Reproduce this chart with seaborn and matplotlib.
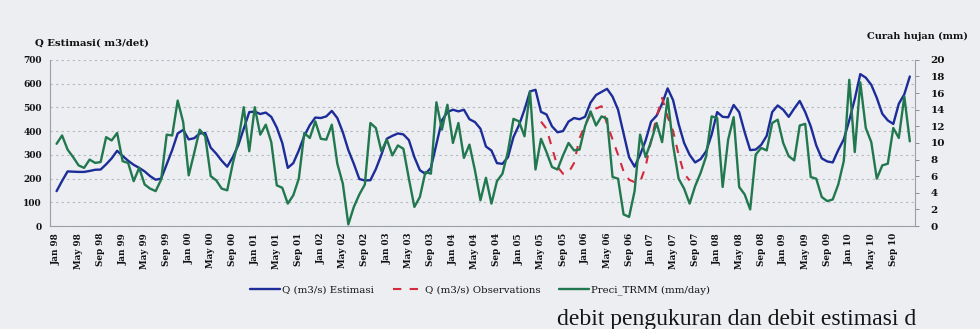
import numpy as np
import pandas as pd
import matplotlib
matplotlib.use("Agg")
import matplotlib.pyplot as plt
import seaborn as sns

# Monthly series, Jan 1998 - Dec 2010
dates = pd.date_range("1998-01-01", periods=156, freq="MS")
month_labels = [d.strftime("%b %y") for d in dates]

q_estimasi = [
    147, 190, 230, 229, 228, 228, 232, 237, 238, 260,
    285, 317, 295, 275, 258, 245, 230, 210, 195, 200,
    260, 320, 390, 405, 365, 370, 390, 392, 330, 305,
    275, 250, 290, 340, 410, 480, 482, 472, 478, 460,
    415, 350, 245, 265, 318, 380, 425, 457, 455, 462,
    485, 455, 395, 320, 262, 198, 192, 193, 240, 300,
    368, 380, 390, 386, 362, 290, 235, 220, 245, 345,
    445, 480, 490, 483, 490, 450, 438, 410, 335, 318,
    265, 262, 290, 375, 425, 490, 567, 574, 481, 470,
    420, 395, 400, 440, 455, 450, 460, 520, 552, 565,
    578, 545, 490, 390, 290, 250, 300, 360, 440, 465,
    515, 580, 530, 430, 350, 300, 268, 282, 315, 385,
    480, 460, 458, 510, 480, 395, 320, 322, 342, 380,
    480, 508, 490, 460, 495, 527, 480, 420, 340, 285,
    272, 268, 320, 365, 445, 535, 640, 625, 595, 540,
    473, 445, 430, 515, 555, 630,
]

# Observed discharge, available May 2005 - Aug 2007
obs_start = "2005-05-01"
q_observasi = [
    440, 410, 330, 250, 220, 225, 265, 370, 425, 470,
    495, 505, 430, 365, 300, 230, 195, 185, 185, 250,
    360, 460, 540, 460, 400, 300, 220, 192,
]

preci_trmm = [
    9.9, 10.9, 9.2, 8.3, 7.3, 7.0, 8.0, 7.6, 7.7, 10.7,
    10.3, 11.2, 7.8, 7.6, 5.4, 7.0, 5.0, 4.5, 4.2, 5.6,
    11.0, 10.9, 15.1, 12.5, 6.1, 8.8, 11.6, 10.8, 6.0, 5.5,
    4.5, 4.3, 7.5, 10.2, 14.3, 9.0, 14.3, 11.0, 12.2, 10.1,
    4.9, 4.6, 2.7, 3.7, 5.7, 11.2, 10.6, 12.6, 10.5, 10.4,
    12.2, 7.5, 5.1, 0.2, 2.3, 3.8, 5.0, 12.4, 11.8, 9.0,
    10.4, 8.5, 9.7, 9.3, 5.7, 2.3, 3.5, 6.5, 6.3, 14.9,
    11.6, 14.6, 10.0, 12.4, 8.2, 9.8, 6.7, 3.1, 5.8, 2.7,
    5.4, 6.3, 9.0, 12.9, 12.6, 10.8, 16.2, 6.8, 10.5, 8.9,
    7.1, 6.8, 8.5, 10.0, 9.1, 9.2, 12.0, 13.8, 12.1, 13.2,
    12.9, 5.9, 5.7, 1.4, 1.1, 4.2, 11.0, 8.3, 10.2, 12.4,
    10.1, 15.4, 9.7, 5.7, 4.5, 2.7, 4.8, 6.4, 8.4, 13.2,
    13.0, 4.7, 10.4, 13.1, 4.7, 3.8, 2.0, 8.6, 9.4, 9.1,
    12.4, 12.8, 10.0, 8.4, 7.9, 12.1, 12.3, 5.9, 5.7, 3.5,
    3.0, 3.2, 5.0, 7.8, 17.6, 8.9, 17.3, 11.8, 10.1, 5.7,
    7.3, 7.5, 11.8, 10.6, 15.6, 10.2,
]

df = pd.DataFrame({"t": np.arange(len(dates)), "q_est": q_estimasi, "preci": preci_trmm})
obs_idx = int(np.where(dates == pd.Timestamp(obs_start))[0][0])
df_obs = pd.DataFrame({"t": np.arange(obs_idx, obs_idx + len(q_observasi)), "q_obs": q_observasi})

BLUE = "#1c2c98"
RED = "#d42a3c"
GREEN = "#21784f"
PAPER = "#eceef1"
TXT = "#111111"

sns.set_theme(style="white")
plt.rcParams["font.family"] = ["DejaVu Serif"]

fig = plt.figure(figsize=(9.8, 3.29), dpi=100, facecolor=PAPER)
ax = fig.add_axes([0.051, 0.313, 0.883, 0.505])
ax.set_facecolor(PAPER)

sns.lineplot(data=df, x="t", y="q_est", ax=ax, color=BLUE, lw=1.7,
             label="Q (m3/s) Estimasi", legend=False)
sns.lineplot(data=df_obs, x="t", y="q_obs", ax=ax, color=RED, lw=1.5,
             label="Q (m3/s) Observations", legend=False)
ax.lines[-1].set_linestyle((0, (4, 4)))

ax2 = ax.twinx()
sns.lineplot(data=df, x="t", y="preci", ax=ax2, color=GREEN, lw=1.7,
             label="Preci_TRMM (mm/day)", legend=False)

ax.set_xlim(-1.2, 156)
ax.set_ylim(0, 700)
ax2.set_ylim(0, 20)

ax.set_yticks(np.arange(0, 701, 100))
ax.set_yticklabels([str(v) for v in range(0, 701, 100)], fontsize=6.5,
                   fontweight="bold", color=TXT)
ax2.set_yticks(np.arange(0, 21, 2))
ax2.set_yticklabels([str(v) for v in range(0, 21, 2)], fontsize=7.5,
                    fontweight="bold", color=TXT)

xt = np.arange(0, 156, 4)
ax.set_xticks(xt)
ax.set_xticklabels([month_labels[i] for i in xt], rotation=90, fontsize=6.3,
                   fontweight="bold", color=TXT)

ax.yaxis.grid(True, linestyle=(0, (2, 3)), color="#b3b8c1", lw=0.8)
ax.xaxis.grid(False)
ax.set_xlabel("")
ax.set_ylabel("")
ax2.set_ylabel("")

for a in (ax, ax2):
    a.spines["top"].set_visible(False)
    for s in ("left", "bottom", "right"):
        a.spines[s].set_color("#9a9ea6")
        a.spines[s].set_linewidth(0.8)
ax.spines["right"].set_visible(False)
ax2.spines["left"].set_visible(False)
ax2.spines["bottom"].set_visible(False)

ax.tick_params(axis="x", length=3, width=0.7, color="#8a8e96", pad=2)
ax.tick_params(axis="y", length=0, pad=6)
ax2.tick_params(axis="y", length=3, width=0.7, color="#8a8e96", pad=8)

fig.text(0.036, 0.855, "Q Estimasi( m3/det)", fontsize=7.3, fontweight="bold",
         color=TXT, ha="left", va="bottom")
fig.text(0.988, 0.875, "Curah hujan (mm)", fontsize=7.0, fontweight="bold",
         color=TXT, ha="right", va="bottom")

handles = ax.get_lines()[:2] + ax2.get_lines()[:1]
labels = ["Q (m3/s) Estimasi", "Q (m3/s) Observations", "Preci_TRMM (mm/day)"]
leg = fig.legend(handles, labels, loc="center", bbox_to_anchor=(0.49, 0.117),
                 ncol=3, frameon=False, handlelength=3.0, columnspacing=1.8,
                 handletextpad=0.2, prop={"family": "DejaVu Serif", "size": 7.3})
for t in leg.get_texts():
    t.set_color(TXT)

fig.text(0.568, 0.062, "debit pengukuran dan debit estimasi d", fontsize=17,
         color="#151515", ha="left", va="top", family="Liberation Serif")

fig.savefig("out.png", dpi=100, facecolor=PAPER)
